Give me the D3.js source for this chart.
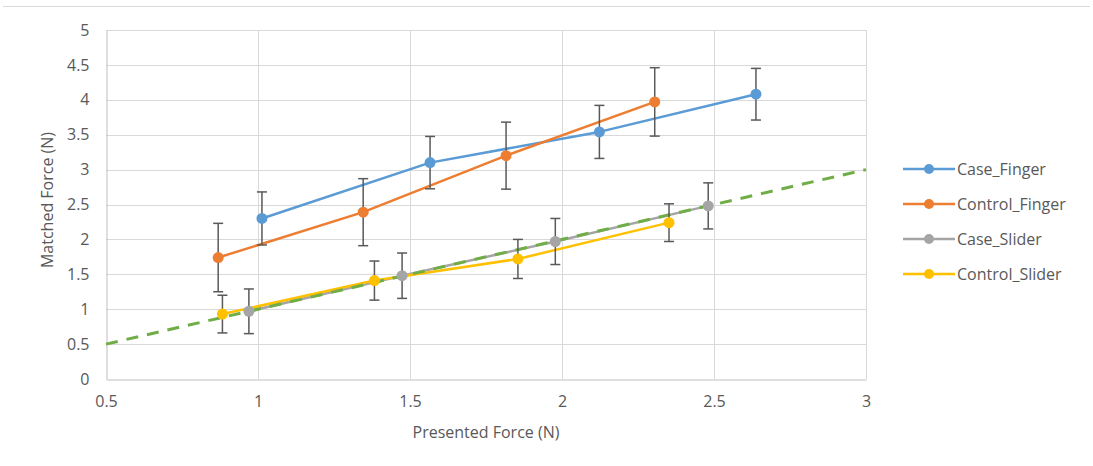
<!DOCTYPE html>
<html>
<head>
<meta charset="utf-8">
<script src="https://cdn.jsdelivr.net/npm/d3@7"></script>
<style>
  html, body { margin: 0; padding: 0; background: #fff; }
  svg { display: block; }
  text { font-family: "Open Sans", "Liberation Sans", sans-serif; fill: #595959; }
</style>
</head>
<body>
<svg id="chart" width="1093" height="466"></svg>
<script>
// Presented vs matched force, four conditions with standard-error bars
const seriesNames = ["Case_Finger", "Control_Finger", "Case_Slider", "Control_Slider"];
const seriesColors = ["#5B9BD5", "#ED7D31", "#A5A5A5", "#FFC000"];

const caseFingerX = [1.013, 1.566, 2.123, 2.638];
const caseFingerY = [2.30, 3.10, 3.54, 4.08];
const caseFingerErr = [0.38, 0.375, 0.38, 0.37];

const controlFingerX = [0.869, 1.346, 1.816, 2.305];
const controlFingerY = [1.74, 2.39, 3.20, 3.97];
const controlFingerErr = [0.49, 0.48, 0.48, 0.49];

const caseSliderX = [0.970, 1.474, 1.978, 2.481];
const caseSliderY = [0.97, 1.48, 1.97, 2.48];
const caseSliderErr = [0.32, 0.325, 0.33, 0.33];

const controlSliderX = [0.883, 1.383, 1.855, 2.352];
const controlSliderY = [0.93, 1.41, 1.72, 2.24];
const controlSliderErr = [0.27, 0.28, 0.28, 0.27];

// Reference line y = x
const identityX = [0.5, 3];

const xTicks = [0.5, 1, 1.5, 2, 2.5, 3];
const yTicks = [0, 0.5, 1, 1.5, 2, 2.5, 3, 3.5, 4, 4.5, 5];

const series = [
  { x: caseFingerX, y: caseFingerY, e: caseFingerErr },
  { x: controlFingerX, y: controlFingerY, e: controlFingerErr },
  { x: caseSliderX, y: caseSliderY, e: caseSliderErr },
  { x: controlSliderX, y: controlSliderY, e: controlSliderErr }
].map((s, i) => ({
  name: seriesNames[i],
  color: seriesColors[i],
  points: s.x.map((xv, j) => ({ x: xv, y: s.y[j], e: s.e[j] }))
}));

const svg = d3.select("#chart");
const plot = { left: 106, right: 866, top: 30, bottom: 379 };
const fontSize = "16px";

const x = d3.scaleLinear().domain([0.5, 3]).range([plot.left, plot.right]);
const y = d3.scaleLinear().domain([0, 5]).range([plot.bottom, plot.top]);

// outer frame top rule
svg.append("line")
  .attr("x1", 3).attr("x2", 1090).attr("y1", 6.5).attr("y2", 6.5)
  .attr("stroke", "#d9d9d9").attr("stroke-width", 1);

// gridlines
const grid = svg.append("g");
grid.selectAll("line.h").data(yTicks.filter(d => d > 0)).join("line")
  .attr("x1", plot.left).attr("x2", plot.right)
  .attr("y1", d => Math.round(y(d)) + 0.5).attr("y2", d => Math.round(y(d)) + 0.5)
  .attr("stroke", "#d9d9d9");
grid.selectAll("line.v").data(xTicks.filter(d => d > 0.5)).join("line")
  .attr("y1", plot.top).attr("y2", plot.bottom)
  .attr("x1", d => Math.round(x(d)) + 0.5).attr("x2", d => Math.round(x(d)) + 0.5)
  .attr("stroke", "#d9d9d9");

// axes
const xAxis = svg.append("g")
  .attr("transform", `translate(0,${Math.round(y(0)) + 0.5})`)
  .call(d3.axisBottom(x).tickValues(xTicks).tickSize(0).tickPadding(16).tickFormat(d3.format("")));
const yAxis = svg.append("g")
  .attr("transform", `translate(${Math.round(x(0.5)) + 0.5},0)`)
  .call(d3.axisLeft(y).tickValues(yTicks).tickSize(0).tickPadding(17).tickFormat(d3.format("")));
[xAxis, yAxis].forEach(a => {
  a.select(".domain").attr("stroke", "#bfbfbf");
  a.selectAll("text").style("font-size", fontSize).style("fill", "#595959")
    .style("font-family", "'Open Sans', sans-serif");
});

// axis titles
svg.append("text")
  .attr("x", 486).attr("y", 438)
  .attr("text-anchor", "middle").style("font-size", fontSize)
  .text("Presented Force (N)");
svg.append("text")
  .attr("transform", `translate(53,200) rotate(-90)`)
  .attr("text-anchor", "middle").style("font-size", fontSize)
  .text("Matched Force (N)");

const line = d3.line().x(d => x(d.x)).y(d => y(d.y));

// series lines
svg.append("g").selectAll("path").data(series).join("path")
  .attr("d", s => line(s.points))
  .attr("fill", "none").attr("stroke", s => s.color)
  .attr("stroke-width", 2.5).attr("stroke-linejoin", "round");

// identity trend line
svg.append("path")
  .attr("d", line(identityX.map(v => ({ x: v, y: v }))))
  .attr("fill", "none").attr("stroke", "#70AD47")
  .attr("stroke-width", 3).attr("stroke-dasharray", "12,9");

// error bars
const eb = svg.append("g").attr("stroke", "#595959").attr("stroke-width", 1.5);
series.forEach(s => {
  s.points.forEach(p => {
    const cx = x(p.x), top = y(p.y + p.e), bot = y(p.y - p.e);
    eb.append("line").attr("x1", cx).attr("x2", cx).attr("y1", top).attr("y2", bot);
    eb.append("line").attr("x1", cx - 5).attr("x2", cx + 5).attr("y1", top).attr("y2", top);
    eb.append("line").attr("x1", cx - 5).attr("x2", cx + 5).attr("y1", bot).attr("y2", bot);
  });
});

// markers
svg.append("g").selectAll("g").data(series).join("g")
  .attr("fill", s => s.color)
  .selectAll("circle").data(s => s.points).join("circle")
  .attr("cx", d => x(d.x)).attr("cy", d => y(d.y)).attr("r", 5.5);

// legend
const legend = svg.append("g");
const legendY = [169, 204, 239, 274];
series.forEach((s, i) => {
  const g = legend.append("g").attr("transform", `translate(0,${legendY[i]})`);
  g.append("line").attr("x1", 903).attr("x2", 955).attr("y1", 0).attr("y2", 0)
    .attr("stroke", s.color).attr("stroke-width", 2.5);
  g.append("circle").attr("cx", 929).attr("cy", 0).attr("r", 5).attr("fill", s.color);
  g.append("text").attr("x", 957).attr("y", 0).attr("dy", "0.35em")
    .style("font-size", fontSize).text(s.name);
});
</script>
</body>
</html>
